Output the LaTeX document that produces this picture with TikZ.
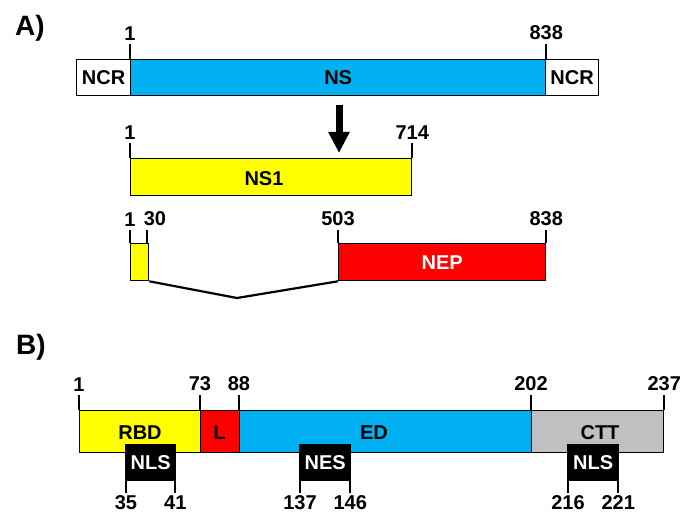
\documentclass[tikz,border=0pt]{standalone}
\usepackage{fontspec}
\setmainfont{Liberation Sans}
\usetikzlibrary{arrows.meta}
\definecolor{nsblue}{HTML}{00B0F0}
\definecolor{nsyellow}{HTML}{FFFF00}
\definecolor{nsred}{HTML}{FF0000}
\definecolor{nsgray}{HTML}{C0C0C0}
\begin{document}
\begin{tikzpicture}[x=1pt,y=-1pt,
  txt/.style={font=\bfseries\fontsize{20}{20}\selectfont},
  seg/.style={txt, draw=black, line width=1.3pt, inner sep=0pt, anchor=north west, minimum height=37pt},
  num/.style={txt, inner sep=0pt},
  tick/.style={line width=1.8pt},
  panel/.style={font=\bfseries\fontsize{28}{28}\selectfont, inner sep=0pt}]
\useasboundingbox (0,0) rectangle (686,513);

% ---------- A ----------
\node[panel] (pa) at (30,28) {A)};
\node[seg, fill=white, minimum width=54pt, minimum height=36pt] (ncrl) at (76,59) {NCR};
\node[seg, fill=white, minimum width=53pt, minimum height=36pt] (ncrr) at (545,59) {NCR};
\node[seg, fill=nsblue, minimum width=415pt, minimum height=36pt] (ns) at (130,59) {NS};
\draw[tick] (ns.north west) -- ++(0,-15) node[num, above=3pt] {1};
\draw[tick] (ns.north east) -- ++(0,-15) node[num, above=3pt] {838};

\coordinate (arrs) at (339,105);
\coordinate (arre) at (339,153);
\draw[line width=7pt, -{Triangle[width=20pt,length=21pt]}] (arrs) -- (arre);

\node[seg, fill=nsyellow, minimum width=281pt] (ns1) at (130,158) {};
\node[num] at (264,179) {NS1};
\draw[tick] (ns1.north west) -- ++(0,-15) node[num, above=3pt] {1};
\draw[tick] (ns1.north east) -- ++(0,-15) node[num, above=3pt] {714};

\node[seg, fill=nsyellow, minimum width=18pt] (ex1) at (130,243) {};
\node[seg, fill=nsred, text=white, minimum width=207pt] (nep) at (338,243) {NEP};
\coordinate (t30) at (147,243);
\draw[tick] (ex1.north west) -- ++(0,-13) node[num, above=3pt] {1};
\draw[tick] (t30) -- ++(0,-13) node[num, above=3pt, xshift=8pt] {30};
\draw[tick] (nep.north west) -- ++(0,-13) node[num, above=3pt] {503};
\draw[tick] (nep.north east) -- ++(0,-13) node[num, above=3pt] {838};
\coordinate (vbot) at (237,298);
\draw[line width=2.2pt] (ex1.south east) -- (vbot) -- (nep.south west);

% ---------- B ----------
\node[panel] (pb) at (31,347) {B)};
\node[seg, fill=nsyellow, minimum width=121pt, minimum height=42pt] (rbd) at (79,410) {};
\node[num] at (140,433) {RBD};
\node[seg, fill=nsred, minimum width=39pt, minimum height=42pt] (lnk) at (200,410) {};
\node[num] at (219.5,433) {L};
\node[seg, fill=nsblue, minimum width=292pt, minimum height=42pt] (ed) at (239,410) {};
\node[num] at (374,433) {ED};
\node[seg, fill=nsgray, minimum width=132pt, minimum height=42pt] (ctt) at (531,410) {};
\node[num] at (600,433) {CTT};

\draw[tick] (rbd.north west) -- ++(0,-15) node[num, above=3pt] {1};
\draw[tick] (lnk.north west) -- ++(0,-15) node[num, above=3pt] {73};
\draw[tick] (ed.north west) -- ++(0,-15) node[num, above=3pt] {88};
\draw[tick] (ctt.north west) -- ++(0,-15) node[num, above=3pt] {202};
\draw[tick] (ctt.north east) -- ++(0,-15) node[num, above=3pt] {237};

\node[seg, fill=black, text=white, minimum width=50pt, minimum height=36pt] (nls1) at (125,444) {NLS};
\node[seg, fill=black, text=white, minimum width=51pt, minimum height=36pt] (nes) at (299,444) {NES};
\node[seg, fill=black, text=white, minimum width=51pt, minimum height=36pt] (nls2) at (567,444) {NLS};

\draw[tick] ([xshift=1pt]nls1.south west) -- ++(0,12) node[num, below=1.5pt] {35};
\draw[tick] ([xshift=-1pt]nls1.south east) -- ++(0,12) node[num, below=1.5pt] {41};
\draw[tick] ([xshift=1pt]nes.south west) -- ++(0,12) node[num, below=1.5pt] {137};
\draw[tick] ([xshift=-1pt]nes.south east) -- ++(0,12) node[num, below=1.5pt] {146};
\draw[tick] ([xshift=1pt]nls2.south west) -- ++(0,12) node[num, below=1.5pt] {216};
\draw[tick] ([xshift=-1pt]nls2.south east) -- ++(0,12) node[num, below=1.5pt] {221};
\end{tikzpicture}
\end{document}
